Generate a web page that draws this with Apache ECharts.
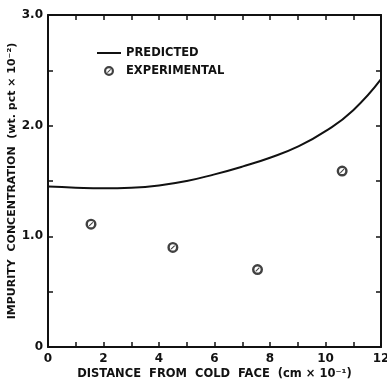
<!DOCTYPE html>
<html>
<head>
<meta charset="utf-8">
<script src="https://cdn.jsdelivr.net/npm/echarts@6/dist/echarts.min.js"></script>
<style>
  html, body { margin: 0; padding: 0; background: #fff; }
  #chart { width: 387px; height: 383px; }
</style>
</head>
<body>
<div id="chart"></div>
<script>
// predicted curve (distance, concentration)
const predictedX = [0, 1, 2, 3, 4, 5, 6, 7, 8, 9, 10, 11, 12];
const predictedY = [1.45, 1.44, 1.435, 1.44, 1.46, 1.50, 1.56, 1.63, 1.71, 1.81, 1.95, 2.14, 2.42];
// experimental points
const experimentalX = [1.55, 4.5, 7.55, 10.6];
const experimentalY = [1.11, 0.9, 0.70, 1.59];

const xTicks = [0, 2, 4, 6, 8, 10, 12];
const yTicks = ['0', '1.0', '2.0', '3.0'];

const font = 'DejaVu Sans';
const ink = '#111';

// circle with a slash
const slashCircle = 'path://M0 -5 A5 5 0 1 1 0 5 A5 5 0 1 1 0 -5 Z M0 -2.8 A2.8 2.8 0 1 0 0 2.8 A2.8 2.8 0 1 0 0 -2.8 Z M-2 1.3 L1.3 -2 L2 -1.3 L-1.3 2 Z';
// plain line for the legend (empty moves keep the box 24x10)
const lineIcon = 'path://M0 0 M0 4 L24 4 L24 6 L0 6 Z M24 10';

const myechart = echarts.init(document.getElementById('chart'));

const axisLine = { show: true, onZero: false, lineStyle: { color: ink, width: 2 } };
const tick = { show: true, inside: true, length: 5, lineStyle: { color: ink, width: 1.5 } };

const option = {
  animation: false,
  grid: { left: 48, right: 6, top: 15, bottom: 36, containLabel: false, outerBoundsMode: 'none' },
  legend: {
    orient: 'vertical',
    left: 92,
    top: 42,
    itemGap: 6,
    itemWidth: 24,
    itemHeight: 10,
    textStyle: { fontFamily: font, fontWeight: 'bold', fontSize: 11.5, color: ink },
    data: [
      { name: 'PREDICTED', icon: lineIcon, itemStyle: { color: ink } },
      { name: 'EXPERIMENTAL' },
    ],
  },
  xAxis: [
    {
      type: 'value',
      min: 0,
      max: 12,
      interval: 1,
      axisLine: axisLine,
      axisTick: tick,
      splitLine: { show: false },
      axisLabel: {
        margin: 6,
        fontFamily: font,
        fontWeight: 'bold',
        fontSize: 12,
        color: ink,
        formatter: (v) => (xTicks.indexOf(v) >= 0 ? String(v) : ''),
      },
      name: 'DISTANCE  FROM  COLD  FACE  (cm × 10⁻¹)',
      nameLocation: 'middle',
      nameGap: 21,
      nameMoveOverlap: false,
      nameTextStyle: { fontFamily: font, fontWeight: 'bold', fontSize: 11.5, color: ink },
    },
    {
      type: 'value',
      position: 'top',
      min: 0,
      max: 12,
      interval: 1,
      axisLine: axisLine,
      axisTick: tick,
      splitLine: { show: false },
      axisLabel: { show: false },
    },
  ],
  yAxis: [
    {
      type: 'value',
      min: 0,
      max: 3,
      interval: 0.5,
      axisLine: axisLine,
      axisTick: tick,
      splitLine: { show: false },
      axisLabel: {
        margin: 5,
        fontFamily: font,
        fontWeight: 'bold',
        fontSize: 12,
        color: ink,
        formatter: (v) => (Number.isInteger(v) ? yTicks[v] : ''),
      },
      name: 'IMPURITY  CONCENTRATION  (wt. pct × 10⁻²)',
      nameLocation: 'middle',
      nameGap: 30,
      nameRotate: 90,
      nameMoveOverlap: false,
      nameTextStyle: { fontFamily: font, fontWeight: 'bold', fontSize: 11, color: ink },
    },
    {
      type: 'value',
      position: 'right',
      min: 0,
      max: 3,
      interval: 0.5,
      axisLine: axisLine,
      axisTick: tick,
      splitLine: { show: false },
      axisLabel: { show: false },
    },
  ],
  series: [
    {
      name: 'PREDICTED',
      type: 'line',
      smooth: true,
      symbol: 'none',
      lineStyle: { color: ink, width: 2 },
      itemStyle: { color: ink },
      data: predictedX.map((x, i) => [x, predictedY[i]]),
    },
    {
      name: 'EXPERIMENTAL',
      type: 'scatter',
      symbol: slashCircle,
      symbolSize: 11,
      itemStyle: { color: ink },
      data: experimentalX.map((x, i) => [x, experimentalY[i]]),
    },
  ],
};

myechart.setOption(option);
</script>
</body>
</html>
